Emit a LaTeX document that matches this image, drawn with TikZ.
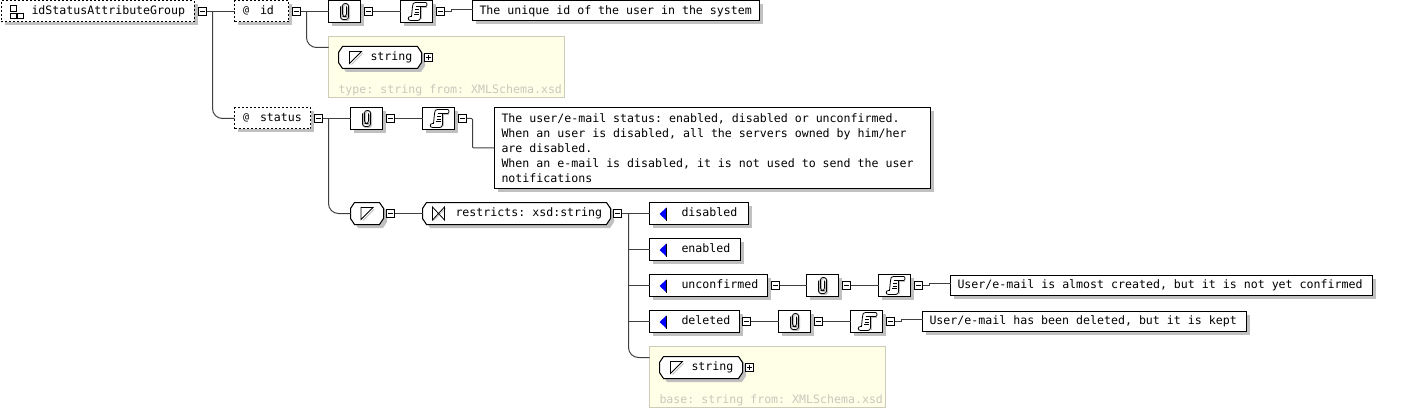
\documentclass[tikz,border=0pt]{standalone}
\usepackage{fontspec}
\setmainfont{DejaVu Sans Mono}
\frenchspacing
\usetikzlibrary{
    shadows,
    positioning
}
\definecolor{xsdshadow}{HTML}{C0C0C0}
\definecolor{xsdline}{HTML}{404040}
\definecolor{xsdpanel}{HTML}{FFFFE8}
\definecolor{xsdborder}{HTML}{CCCCB8}
\definecolor{xsdfaint}{HTML}{C8C8BC}
% Octagon with a fixed cut at the corners
\makeatletter
\pgfdeclareshape{xsdoctagon}{
    \inheritsavedanchors[from=rectangle]
    \inheritanchorborder[from=rectangle]
    \inheritanchor[from=rectangle]{center}
    \inheritanchor[from=rectangle]{west}
    \inheritanchor[from=rectangle]{east}
    \inheritanchor[from=rectangle]{north}
    \inheritanchor[from=rectangle]{south}
    \backgroundpath{
        \southwest \pgf@xa=\pgf@x \pgf@ya=\pgf@y
        \northeast \pgf@xb=\pgf@x \pgf@yb=\pgf@y
        \pgfpathmoveto{\pgfpoint{\pgf@xa+4pt}{\pgf@ya}}
        \pgfpathlineto{\pgfpoint{\pgf@xb-4pt}{\pgf@ya}}
        \pgfpathlineto{\pgfpoint{\pgf@xb}{\pgf@ya+6pt}}
        \pgfpathlineto{\pgfpoint{\pgf@xb}{\pgf@yb-6pt}}
        \pgfpathlineto{\pgfpoint{\pgf@xb-4pt}{\pgf@yb}}
        \pgfpathlineto{\pgfpoint{\pgf@xa+4pt}{\pgf@yb}}
        \pgfpathlineto{\pgfpoint{\pgf@xa}{\pgf@yb-6pt}}
        \pgfpathlineto{\pgfpoint{\pgf@xa}{\pgf@ya+6pt}}
        \pgfpathclose
    }
}
\makeatother
\tikzset{
    % Common look of the schema items
    xsdshade/.style={
        drop shadow={shadow xshift=3.5pt, shadow yshift=-3.5pt, fill=xsdshadow, opacity=1}
    },
    % Attribute and group box, dashed outline
    attrbox/.style={
        rectangle,
        draw=black,
        dash pattern=on 2pt off 2pt,
        fill=white,
        xsdshade,
        anchor=west,
        inner sep=0pt,
        outer sep=0pt,
        minimum height=21pt
    },
    % Plain box
    itembox/.style={
        rectangle,
        draw=black,
        fill=white,
        xsdshade,
        anchor=west,
        inner sep=0pt,
        outer sep=0pt,
        minimum height=22pt
    },
    % Icon box
    iconbox/.style={
        itembox,
        minimum width=32pt
    },
    % Documentation box
    docbox/.style={
        itembox,
        font=\fontsize{11.6}{15}\selectfont,
        align=flush left,
        inner xsep=7pt,
        minimum height=20pt
    },
    % Type octagon
    typebox/.style={
        xsdoctagon,
        draw=black,
        fill=white,
        xsdshade,
        anchor=west,
        inner sep=0pt,
        outer sep=0pt,
        minimum height=22pt
    },
    % Yellow panel of a referenced type
    typepanel/.style={
        rectangle,
        draw=xsdborder,
        fill=xsdpanel,
        anchor=north west,
        inner sep=0pt,
        outer sep=0pt,
        minimum width=236pt,
        minimum height=61pt
    },
    % Text inside a box
    boxtext/.style={
        font=\fontsize{11.6}{15}\selectfont,
        inner sep=0pt,
        text height=9pt,
        text depth=2.5pt
    },
    % Faint text of a panel
    paneltext/.style={
        boxtext,
        text=xsdfaint
    },
    % Small at sign
    atsign/.style={
        boxtext,
        font=\fontsize{10}{10}\selectfont,
        yshift=1.5pt
    },
    % Fold boxes
    foldbox/.style={
        rectangle,
        draw=black,
        fill=white,
        inner sep=0pt,
        outer sep=0pt,
        minimum size=8pt
    },
    foldminus/.style={
        foldbox,
        path picture={
            \draw[black] ([xshift=1.5pt]path picture bounding box.west) -- ([xshift=-1.5pt]path picture bounding box.east);
        }
    },
    foldplus/.style={
        foldbox,
        path picture={
            \draw[black] ([xshift=1.5pt]path picture bounding box.west) -- ([xshift=-1.5pt]path picture bounding box.east);
            \draw[black] ([yshift=1.5pt]path picture bounding box.south) -- ([yshift=-1.5pt]path picture bounding box.north);
        }
    },
    % Connectors
    conn/.style={
        draw=xsdline
    },
    branch/.style={
        draw=xsdline,
        rounded corners=10pt
    },
    % Icons
    clipicon/.pic={
        \draw[xsdshadow, rounded corners=2.5pt] (-3,-6) -- (-3,9) -- (5,9) -- (5,-7) -- (-1,-7) -- (-1,6) -- (3,6) -- (3,-4);
        \draw[black, line width=0.8pt, rounded corners=2.5pt] (-4,-5) -- (-4,8) -- (4,8) -- (4,-8) -- (-2,-8) -- (-2,5) -- (2,5) -- (2,-5);
    },
    scrollicon/.pic={
        \draw[xsdshadow] (10,-4) -- (5,-4) -- (5,8);
        \draw[black, fill=white, line width=0.8pt] (-4,-5) .. controls (-4,-8) and (-3,-9) .. (-1,-9) -- (9,-9) .. controls (11,-9) and (11,-5) .. (9,-5) -- (4,-5) -- (4,6) .. controls (4,8) and (3,9) .. (1,9) -- (-6,9) .. controls (-9,9) and (-9,5) .. (-6,5) -- (-5,5) -- cycle;
        \draw[black, line width=0.7pt] (-1,-5) -- (3,-5) (-1.5,-2) -- (2,-2) (-2,0.5) -- (2,0.5) (-2.5,3) -- (2,3);
    },
    simpleicon/.pic={
        \draw[xsdshadow] (7,-4) -- (-4,7);
        \draw[black, fill=white, line width=0.8pt] (-6,-6) -- (6,-6) -- (-6,6) -- cycle;
    },
    restricticon/.pic={
        \draw[xsdshadow] (7,-5) -- (-5,7);
        \draw[black, line width=0.8pt] (-6,-6.5) -- (6,6.5) -- (6,-6.5) -- (-6,6.5) -- cycle;
    },
    enumicon/.pic={
        \fill[blue] (-4,0.5) -- (3,-6) -- (3,7) -- cycle;
        \draw[black, line width=0.8pt] (3,-6) -- (3,7);
    },
    groupicon/.pic={
        \draw[black, line width=0.8pt] (-3,-6) rectangle (3,0);
        \draw[black, line width=0.8pt] (-3,2) rectangle (3,7);
        \draw[black, line width=0.8pt] (4,2) rectangle (10,7);
    }
}
\begin{document}
\begin{tikzpicture}[x=1pt, y=-1pt, line width=1pt]

    \useasboundingbox (0,0) rectangle (1414,409);

    % Group and its first attribute
    \node[attrbox, minimum width=193pt] (group) at (1,11.5) {};
    \node[boxtext, right=30pt of group.west] (grouptext) {idStatusAttributeGroup};
    \pic at ([xshift=12pt]group.west) {groupicon};
    \node[foldminus] (groupfold) at (202.5,11.5) {};

    \node[attrbox, minimum width=54pt] (idattr) at (234.5,11.5) {};
    \node[atsign, right=8pt of idattr.west] (idat) {@};
    \node[boxtext, right=25pt of idattr.west] (idtext) {id};
    \node[foldminus] (idfold) at (296.5,11.5) {};

    \node[iconbox] (idclip) at (328.5,11.5) {};
    \pic at (idclip) {clipicon};
    \node[foldminus] (idclipfold) at (368.5,11.5) {};

    \node[iconbox] (idnote) at (400.5,11.5) {};
    \pic at (idnote) {scrollicon};
    \node[foldminus] (idnotefold) at (440.5,11.5) {};

    \node[docbox, text width=273pt] (iddoc) at (472.5,11) {The unique id of the user in the system};

    % Type of id
    \node[typepanel] (idtype) at (328.5,36.5) {};
    \node[typebox, minimum width=83pt] (idstring) at (338.5,57.5) {};
    \pic at ([xshift=17pt]idstring.west) {simpleicon};
    \node[boxtext, right=31.5pt of idstring.west] (idstringtext) {string};
    \node[foldplus] (idstringfold) at (428.5,57.5) {};
    \node[paneltext, right=9.5pt of idtype.south west, yshift=7pt] (idtypetext) {type: string from: XMLSchema.xsd};

    % Status attribute
    \node[attrbox, minimum width=76pt] (statusattr) at (234.5,118.5) {};
    \node[atsign, right=8pt of statusattr.west] (statusat) {@};
    \node[boxtext, right=25pt of statusattr.west] (statustext) {status};
    \node[foldminus] (statusfold) at (318.5,118.5) {};

    \node[iconbox] (statusclip) at (350.5,118.5) {};
    \pic at (statusclip) {clipicon};
    \node[foldminus] (statusclipfold) at (390.5,118.5) {};

    \node[iconbox] (statusnote) at (422.5,118.5) {};
    \pic at (statusnote) {scrollicon};
    \node[foldminus] (statusnotefold) at (462.5,118.5) {};

    \node[docbox, text width=422pt, minimum height=81pt, anchor=north west] (statusdoc) at (494.5,107.5) {The user/e-mail status: enabled, disabled or unconfirmed.\\When an user is disabled, all the servers owned by him/her\\are disabled.\\When an e-mail is disabled, it is not used to send the user\\notifications};

    % Restriction of status
    \node[typebox, minimum width=33pt] (statussimple) at (350.5,213.5) {};
    \pic at (statussimple) {simpleicon};
    \node[foldminus] (statussimplefold) at (390.5,213.5) {};

    \node[typebox, minimum width=188pt] (restrict) at (422.5,213.5) {};
    \pic at ([xshift=16pt]restrict.west) {restricticon};
    \node[boxtext, right=32.5pt of restrict.west] (restricttext) {restricts: xsd:string};
    \node[foldminus] (restrictfold) at (617.5,213.5) {};

    % Enumeration values
    \node[itembox, minimum width=99pt] (disabled) at (649.5,213.5) {};
    \pic at ([xshift=14pt]disabled.west) {enumicon};
    \node[boxtext, right=31.5pt of disabled.west] (disabledtext) {disabled};

    \node[itembox, minimum width=91pt] (enabled) at (649.5,249.5) {};
    \pic at ([xshift=14pt]enabled.west) {enumicon};
    \node[boxtext, right=31.5pt of enabled.west] (enabledtext) {enabled};

    \node[itembox, minimum width=118pt] (unconfirmed) at (649.5,285.5) {};
    \pic at ([xshift=14pt]unconfirmed.west) {enumicon};
    \node[boxtext, right=31.5pt of unconfirmed.west] (unconfirmedtext) {unconfirmed};
    \node[foldminus] (unconfirmedfold) at (775.5,285.5) {};

    \node[iconbox] (unconfirmedclip) at (806.5,285.5) {};
    \pic at (unconfirmedclip) {clipicon};
    \node[foldminus] (unconfirmedclipfold) at (846.5,285.5) {};

    \node[iconbox] (unconfirmednote) at (878.5,285.5) {};
    \pic at (unconfirmednote) {scrollicon};
    \node[foldminus] (unconfirmednotefold) at (918.5,285.5) {};

    \node[docbox, text width=408pt] (unconfirmeddoc) at (950.5,285) {User/e-mail is almost created, but it is not yet confirmed};

    \node[itembox, minimum width=90pt] (deleted) at (649.5,321.5) {};
    \pic at ([xshift=14pt]deleted.west) {enumicon};
    \node[boxtext, right=31.5pt of deleted.west] (deletedtext) {deleted};
    \node[foldminus] (deletedfold) at (746.5,321.5) {};

    \node[iconbox] (deletedclip) at (778.5,321.5) {};
    \pic at (deletedclip) {clipicon};
    \node[foldminus] (deletedclipfold) at (818.5,321.5) {};

    \node[iconbox] (deletednote) at (850.5,321.5) {};
    \pic at (deletednote) {scrollicon};
    \node[foldminus] (deletednotefold) at (890.5,321.5) {};

    \node[docbox, text width=310pt] (deleteddoc) at (922.5,321) {User/e-mail has been deleted, but it is kept};

    % Base type
    \node[typepanel] (basetype) at (649.5,346.5) {};
    \node[typebox, minimum width=83pt] (basestring) at (659.5,367.5) {};
    \pic at ([xshift=17pt]basestring.west) {simpleicon};
    \node[boxtext, right=31.5pt of basestring.west] (basestringtext) {string};
    \node[foldplus] (basestringfold) at (749.5,367.5) {};
    \node[paneltext, right=9.5pt of basetype.south west, yshift=7pt] (basetypetext) {base: string from: XMLSchema.xsd};

    % Fork points
    \coordinate (groupfork) at (212.5,11.5);
    \coordinate (idfork) at (306.5,11.5);
    \coordinate (statusfork) at (328.5,118.5);
    \coordinate (restrictfork) at (628.5,213.5);
    \coordinate (idtypein) at ([yshift=-11pt]idtype.north west);
    \coordinate (basetypein) at ([yshift=-11pt]basetype.north west);

    % Connectors of the group
    \draw[conn] (groupfold.east) -- (idattr.west);
    \draw[branch] (groupfork) |- (statusattr.west);

    % Connectors of id
    \draw[conn] (idfold.east) -- (idclip.west);
    \draw[conn] (idclipfold.east) -- (idnote.west);
    \draw[conn] (idnotefold.east) -- ++(7,0) -- ++(0,-2) -- (iddoc.west |- 0,9.5);
    \draw[branch] (idfork) |- (idtypein);

    % Connectors of status
    \draw[conn] (statusfold.east) -- (statusclip.west);
    \draw[conn] (statusclipfold.east) -- (statusnote.west);
    \draw[branch, rounded corners=1pt] (statusnotefold.east) -- ++(6,0) |- (statusdoc.west);
    \draw[branch] (statusfork) |- (statussimple.west);
    \draw[conn] (statussimplefold.east) -- (restrict.west);

    % Connectors of the restriction
    \draw[conn] (restrictfold.east) -- (disabled.west);
    \draw[conn] (restrictfork |- enabled.west) -- (enabled.west);
    \draw[conn] (restrictfork |- unconfirmed.west) -- (unconfirmed.west);
    \draw[conn] (restrictfork |- deleted.west) -- (deleted.west);
    \draw[branch] (restrictfork) |- (basetypein);

    % Connectors of the values
    \draw[conn] (unconfirmedfold.east) -- (unconfirmedclip.west);
    \draw[conn] (unconfirmedclipfold.east) -- (unconfirmednote.west);
    \draw[conn] (unconfirmednotefold.east) -- ++(7,0) -- ++(0,-2) -- (unconfirmeddoc.west |- 0,283.5);
    \draw[conn] (deletedfold.east) -- (deletedclip.west);
    \draw[conn] (deletedclipfold.east) -- (deletednote.west);
    \draw[conn] (deletednotefold.east) -- ++(7,0) -- ++(0,-2) -- (deleteddoc.west |- 0,319.5);

\end{tikzpicture}
\end{document}
